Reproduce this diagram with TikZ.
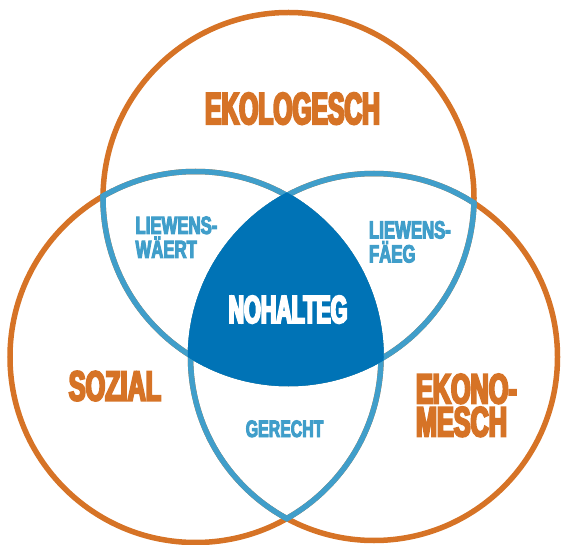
\documentclass[tikz,border=0pt]{standalone}
\usepackage{fontspec}
\newfontfamily\fA{Liberation Sans}[FakeStretch=0.55,FakeBold=5]
\newfontfamily\fB{Liberation Sans}[FakeStretch=0.60,FakeBold=5]
\newfontfamily\fC{Liberation Sans}[FakeStretch=0.67,FakeBold=4]
\definecolor{vorange}{RGB}{214,115,38}
\definecolor{vlight}{RGB}{64,158,202}
\definecolor{vdark}{RGB}{0,115,182}
\begin{document}
\begin{tikzpicture}[x=1pt,y=-1pt,
  ring/.style={line width=5.5pt},
  lbl/.style={inner sep=0pt,outer sep=0pt},
  bigA/.style={lbl,font=\fA\bfseries\fontsize{44.7}{44.7}\selectfont},
  midA/.style={lbl,font=\fA\bfseries\fontsize{39}{39}\selectfont},
  bigB/.style={lbl,font=\fB\bfseries\fontsize{42}{33}\selectfont},
  smallC/.style={lbl,font=\fC\bfseries\fontsize{25}{24}\selectfont}]
\useasboundingbox (0,0) rectangle (562,545);
\coordinate (cT) at (288.5,198);
\coordinate (cL) at (195.5,357);
\coordinate (cR) at (374,357);
% orange rings
\draw[ring,vorange] (cT) circle[radius=185.5pt];
\draw[ring,vorange] (cL) circle[radius=185.5pt];
\draw[ring,vorange] (cR) circle[radius=183.5pt];
% light blue inner arcs
\begin{scope}\clip (cL) circle[radius=188.25pt];
  \draw[ring,vlight] (cT) circle[radius=185.5pt];
  \draw[ring,vlight] (cR) circle[radius=183.5pt];
\end{scope}
\begin{scope}\clip (cR) circle[radius=186.25pt];
  \draw[ring,vlight] (cT) circle[radius=185.5pt];
  \draw[ring,vlight] (cL) circle[radius=185.5pt];
\end{scope}
\begin{scope}\clip (cT) circle[radius=188.25pt];
  \draw[ring,vlight] (cL) circle[radius=185.5pt];
  \draw[ring,vlight] (cR) circle[radius=183.5pt];
\end{scope}
% dark centre
\begin{scope}
  \clip (cL) circle[radius=188.25pt];
  \clip (cR) circle[radius=186.25pt];
  \fill[vdark] (cT) circle[radius=188.25pt];
\end{scope}
% labels
\node[bigA,text=vorange,anchor=base] (eko) at (292.5,124) {EKOLOGESCH};
\node[midA,text=white,anchor=base] (noh) at (288,323) {NOHALTEG};
\node[bigB,text=vorange,anchor=base] (soz) at (115,400.5) {SOZIAL};
\node[bigB,text=vorange,anchor=north west,align=left] (ekn) at (416,374) {EKONO-\\MESCH};
\node[smallC,text=vlight,anchor=north west,align=left] (lw) at (135.5,216.5) {LIEWENS-\\WÄERT};
\node[smallC,text=vlight,anchor=north west,align=left] (lf) at (369,221) {LIEWENS-\\FÄEG};
\node[smallC,text=vlight,anchor=base,font=\fC\bfseries\fontsize{23.7}{23.7}\selectfont] (ger) at (284.6,437) {GERECHT};
\end{tikzpicture}
\end{document}
